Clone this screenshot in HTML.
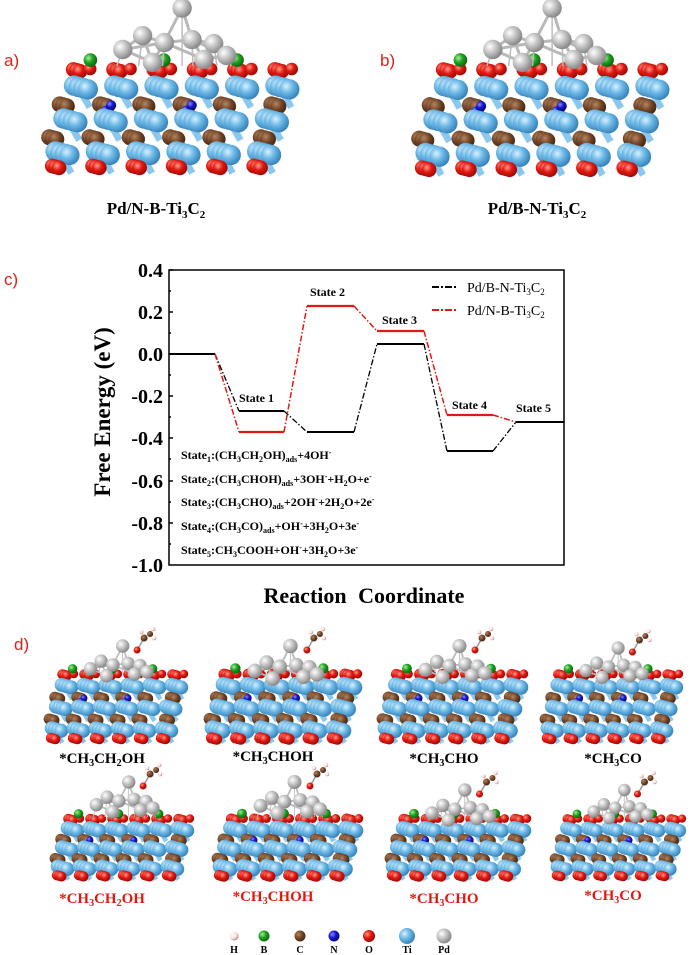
<!DOCTYPE html>
<html><head><meta charset="utf-8"><style>
html,body{margin:0;padding:0;background:#fff;}
svg{display:block}
text{font-family:"Liberation Serif",serif;}
.lab{font-family:"Liberation Sans",sans-serif;fill:#e0201a;font-size:17px;}
</style></head><body>
<svg id="s" width="693" height="955" viewBox="0 0 693 955" xmlns="http://www.w3.org/2000/svg">
<defs>
<radialGradient id="gTi" cx="35%" cy="35%" r="65%"><stop offset="0" stop-color="#d8f0ff"/><stop offset=".5" stop-color="#6cb8e6"/><stop offset="1" stop-color="#3a86bd"/></radialGradient>
<radialGradient id="gC" cx="35%" cy="35%" r="65%"><stop offset="0" stop-color="#b58560"/><stop offset=".6" stop-color="#6e4124"/><stop offset="1" stop-color="#4a2a14"/></radialGradient>
<radialGradient id="gO" cx="35%" cy="35%" r="65%"><stop offset="0" stop-color="#ff9a8a"/><stop offset=".5" stop-color="#e01a12"/><stop offset="1" stop-color="#a00a05"/></radialGradient>
<radialGradient id="gB" cx="35%" cy="35%" r="65%"><stop offset="0" stop-color="#a8f0a0"/><stop offset=".5" stop-color="#1fa31f"/><stop offset="1" stop-color="#0d6a0d"/></radialGradient>
<radialGradient id="gN" cx="35%" cy="35%" r="65%"><stop offset="0" stop-color="#8a8aff"/><stop offset=".5" stop-color="#1818d0"/><stop offset="1" stop-color="#080880"/></radialGradient>
<radialGradient id="gPd" cx="35%" cy="35%" r="65%"><stop offset="0" stop-color="#ffffff"/><stop offset=".5" stop-color="#c4c4c4"/><stop offset="1" stop-color="#8a8a8a"/></radialGradient>
<radialGradient id="gH" cx="35%" cy="35%" r="65%"><stop offset="0" stop-color="#ffffff"/><stop offset=".7" stop-color="#f4dede"/><stop offset="1" stop-color="#c08080"/></radialGradient>
</defs>
<g id="mol"></g>

<text class="lab" x="4" y="66">a)</text>
<text class="lab" x="380" y="66">b)</text>
<text class="lab" x="4" y="285">c)</text>
<text class="lab" x="14" y="650">d)</text>

<text x="156" y="214" text-anchor="middle" font-size="17" font-weight="bold">Pd/N-B-Ti<tspan font-size="11" dy="4">3</tspan><tspan dy="-4">C</tspan><tspan font-size="11" dy="4">2</tspan></text>
<text x="537" y="214" text-anchor="middle" font-size="17" font-weight="bold">Pd/B-N-Ti<tspan font-size="11" dy="4">3</tspan><tspan dy="-4">C</tspan><tspan font-size="11" dy="4">2</tspan></text>

<g>
<rect x="169" y="270" width="395" height="295" fill="none" stroke="#000" stroke-width="1.5"/>
<g stroke="#000" stroke-width="1.5">
<line x1="169" y1="270" x2="173" y2="270"/><line x1="169" y1="291" x2="171" y2="291"/>
<line x1="169" y1="312" x2="173" y2="312"/><line x1="169" y1="333" x2="171" y2="333"/>
<line x1="169" y1="354" x2="173" y2="354"/><line x1="169" y1="375" x2="171" y2="375"/>
<line x1="169" y1="396" x2="173" y2="396"/><line x1="169" y1="417" x2="171" y2="417"/>
<line x1="169" y1="438" x2="173" y2="438"/><line x1="169" y1="459" x2="171" y2="459"/>
<line x1="169" y1="481" x2="173" y2="481"/><line x1="169" y1="502" x2="171" y2="502"/>
<line x1="169" y1="523" x2="173" y2="523"/><line x1="169" y1="544" x2="171" y2="544"/>
</g>
<g font-size="20" font-weight="bold" text-anchor="end">
<text x="163" y="277">0.4</text><text x="163" y="319">0.2</text><text x="163" y="361">0.0</text>
<text x="163" y="403">-0.2</text><text x="163" y="445">-0.4</text><text x="163" y="488">-0.6</text>
<text x="163" y="530">-0.8</text><text x="163" y="572">-1.0</text>
</g>
<text transform="translate(110,412) rotate(-90)" text-anchor="middle" font-size="23" font-weight="bold">Free Energy (eV)</text>
<text x="364" y="603" text-anchor="middle" font-size="22" font-weight="bold" word-spacing="6">Reaction Coordinate</text>

<g stroke="#000" fill="none">
<polyline stroke-width="2" points="169,354 215,354"/>
<polyline stroke-width="2" points="239,411 284,411"/>
<polyline stroke-width="2" points="307,432 354,432"/>
<polyline stroke-width="2" points="377,344 424,344"/>
<polyline stroke-width="2" points="447,451 493,451"/>
<polyline stroke-width="2" points="516,422 564,422"/>
<polyline stroke-width="1.3" stroke-dasharray="6,2,1.5,2" points="215,354 239,411"/>
<polyline stroke-width="1.3" stroke-dasharray="6,2,1.5,2" points="284,411 307,432"/>
<polyline stroke-width="1.3" stroke-dasharray="6,2,1.5,2" points="354,432 377,344"/>
<polyline stroke-width="1.3" stroke-dasharray="6,2,1.5,2" points="424,344 447,451"/>
<polyline stroke-width="1.3" stroke-dasharray="6,2,1.5,2" points="493,451 516,422"/>
</g>
<g stroke="#e01a12" fill="none">
<polyline stroke-width="2.2" points="239,432 284,432"/>
<polyline stroke-width="2.2" points="307,306 354,306"/>
<polyline stroke-width="2.2" points="377,331 424,331"/>
<polyline stroke-width="2.2" points="447,415 493,415"/>
<polyline stroke-width="1.5" stroke-dasharray="6,2,1.5,2" points="215,354 239,432"/>
<polyline stroke-width="1.5" stroke-dasharray="6,2,1.5,2" points="284,432 307,306"/>
<polyline stroke-width="1.5" stroke-dasharray="6,2,1.5,2" points="354,306 377,331"/>
<polyline stroke-width="1.5" stroke-dasharray="6,2,1.5,2" points="424,331 447,415"/>
<polyline stroke-width="1.5" stroke-dasharray="6,2,1.5,2" points="493,415 516,422"/>
</g>
<g font-size="12" font-weight="bold">
<text x="239" y="402">State 1</text><text x="310" y="296">State 2</text>
<text x="382" y="324">State 3</text><text x="452" y="409">State 4</text>
<text x="516" y="412">State 5</text>
</g>
<line x1="432" y1="287" x2="457" y2="287" stroke="#000" stroke-width="2" stroke-dasharray="7,2,2,2"/>
<line x1="432" y1="310" x2="457" y2="310" stroke="#e01a12" stroke-width="2" stroke-dasharray="7,2,2,2"/>
<text x="467" y="292" font-size="14">Pd/B-N-Ti<tspan font-size="9" dy="3">3</tspan><tspan dy="-3">C</tspan><tspan font-size="9" dy="3">2</tspan></text>
<text x="467" y="315" font-size="14">Pd/N-B-Ti<tspan font-size="9" dy="3">3</tspan><tspan dy="-3">C</tspan><tspan font-size="9" dy="3">2</tspan></text>
<g font-size="12" font-weight="bold">
<text x="181" y="459">State<tspan font-size="8" dy="3">1</tspan><tspan dy="-3">:(CH</tspan><tspan font-size="8" dy="3">3</tspan><tspan dy="-3">CH</tspan><tspan font-size="8" dy="3">2</tspan><tspan dy="-3">OH)</tspan><tspan font-size="8" dy="3">ads</tspan><tspan dy="-3">+4OH</tspan><tspan font-size="8" dy="-4">-</tspan></text>
<text x="181" y="483">State<tspan font-size="8" dy="3">2</tspan><tspan dy="-3">:(CH</tspan><tspan font-size="8" dy="3">3</tspan><tspan dy="-3">CHOH)</tspan><tspan font-size="8" dy="3">ads</tspan><tspan dy="-3">+3OH</tspan><tspan font-size="8" dy="-4">-</tspan><tspan dy="4">+H</tspan><tspan font-size="8" dy="3">2</tspan><tspan dy="-3">O+e</tspan><tspan font-size="8" dy="-4">-</tspan></text>
<text x="181" y="506">State<tspan font-size="8" dy="3">3</tspan><tspan dy="-3">:(CH</tspan><tspan font-size="8" dy="3">3</tspan><tspan dy="-3">CHO)</tspan><tspan font-size="8" dy="3">ads</tspan><tspan dy="-3">+2OH</tspan><tspan font-size="8" dy="-4">-</tspan><tspan dy="4">+2H</tspan><tspan font-size="8" dy="3">2</tspan><tspan dy="-3">O+2e</tspan><tspan font-size="8" dy="-4">-</tspan></text>
<text x="181" y="530">State<tspan font-size="8" dy="3">4</tspan><tspan dy="-3">:(CH</tspan><tspan font-size="8" dy="3">3</tspan><tspan dy="-3">CO)</tspan><tspan font-size="8" dy="3">ads</tspan><tspan dy="-3">+OH</tspan><tspan font-size="8" dy="-4">-</tspan><tspan dy="4">+3H</tspan><tspan font-size="8" dy="3">2</tspan><tspan dy="-3">O+3e</tspan><tspan font-size="8" dy="-4">-</tspan></text>
<text x="181" y="554">State<tspan font-size="8" dy="3">5</tspan><tspan dy="-3">:CH</tspan><tspan font-size="8" dy="3">3</tspan><tspan dy="-3">COOH+OH</tspan><tspan font-size="8" dy="-4">-</tspan><tspan dy="4">+3H</tspan><tspan font-size="8" dy="3">2</tspan><tspan dy="-3">O+3e</tspan><tspan font-size="8" dy="-4">-</tspan></text>
</g>
</g>

<g font-size="15" font-weight="bold" text-anchor="middle">
<text x="102" y="763">*CH<tspan font-size="10" dy="3">3</tspan><tspan dy="-3">CH</tspan><tspan font-size="10" dy="3">2</tspan><tspan dy="-3">OH</tspan></text>
<text x="273" y="761">*CH<tspan font-size="10" dy="3">3</tspan><tspan dy="-3">CHOH</tspan></text>
<text x="444" y="763">*CH<tspan font-size="10" dy="3">3</tspan><tspan dy="-3">CHO</tspan></text>
<text x="613" y="763">*CH<tspan font-size="10" dy="3">3</tspan><tspan dy="-3">CO</tspan></text>
<g fill="#e01a12">
<text x="102" y="903">*CH<tspan font-size="10" dy="3">3</tspan><tspan dy="-3">CH</tspan><tspan font-size="10" dy="3">2</tspan><tspan dy="-3">OH</tspan></text>
<text x="273" y="901">*CH<tspan font-size="10" dy="3">3</tspan><tspan dy="-3">CHOH</tspan></text>
<text x="444" y="903">*CH<tspan font-size="10" dy="3">3</tspan><tspan dy="-3">CHO</tspan></text>
<text x="613" y="900">*CH<tspan font-size="10" dy="3">3</tspan><tspan dy="-3">CO</tspan></text>
</g>
</g>
<g>
<circle cx="234" cy="936" r="4.5" fill="url(#gH)"/>
<circle cx="264" cy="936" r="5.5" fill="url(#gB)"/>
<circle cx="300" cy="936" r="5.5" fill="url(#gC)"/>
<circle cx="334" cy="936" r="5.5" fill="url(#gN)"/>
<circle cx="369" cy="936" r="6" fill="url(#gO)"/>
<circle cx="407" cy="936" r="8" fill="url(#gTi)"/>
<circle cx="444" cy="936" r="7.5" fill="url(#gPd)"/>
<g font-size="10" font-weight="bold" text-anchor="middle">
<text x="234" y="953">H</text><text x="264" y="953">B</text><text x="300" y="953">C</text><text x="334" y="953">N</text><text x="369" y="953">O</text><text x="407" y="953">Ti</text><text x="444" y="953">Pd</text>
</g>
</g>
</svg>
<script>
(function(){
var NS="http://www.w3.org/2000/svg",g=document.getElementById("mol");
function c(x,y,r,f){var e=document.createElementNS(NS,"circle");e.setAttribute("cx",x.toFixed(1));e.setAttribute("cy",y.toFixed(1));e.setAttribute("r",r.toFixed(1));e.setAttribute("fill","url(#g"+f+")");g.appendChild(e);}
function l(x1,y1,x2,y2,col,w){var e=document.createElementNS(NS,"line");e.setAttribute("x1",x1);e.setAttribute("y1",y1);e.setAttribute("x2",x2);e.setAttribute("y2",y2);e.setAttribute("stroke",col);e.setAttribute("stroke-width",w);g.appendChild(e);}
function atom(x,y,r,f,n){for(var k=n-1;k>=0;k--)c(x-k*r*0.45,y-k*r*0.12,r,f);}
function slab(x,y,w,h,top,rf,mol){
 var s=w/265, rs=s*rf, cols=6, dx=w/6.5;
 var layers=[[0.05,"O",6.5,0.08],[0.22,"Ti",9,0.11],[0.38,"C",7,0.03],[0.53,"Ti",9,0.07],[0.69,"C",7,-0.01],[0.84,"Ti",9,0.04],[0.96,"O",6.5,0.0]];
 for(var L=0;L<layers.length;L++){
  var ly=layers[L];
  for(var i=0;i<cols;i++){
   var xx=x+w*0.08+i*dx+ly[3]*w, yy=y+ly[0]*h;
   if(ly[1]=="Ti"){ l(xx-12*rs,yy-8*rs,xx+2*s,yy+0.17*h,"#8cc8ee",6*rs); }
  }
 }
 for(var L=0;L<layers.length;L++){
  var ly=layers[L];
  var n=(ly[1]=="Ti")?4:3;
  for(var i=0;i<cols;i++){
   var xx=x+w*0.08+i*dx+ly[3]*w, yy=y+ly[0]*h;
   if(ly[1]=="C"&&i==cols-1)xx+=dx*0.25;
   atom(xx,yy,ly[2]*rs,ly[1],n);
   if(ly[1]=="O"&&L==0){c(xx+9*rs,yy-2*rs,5.5*rs,"O");}
   if(L==2&&(i==1||i==3)){c(xx+4*s,yy-1*s,4.5*rs,"N");c(xx-2*s,yy+3*s,3*rs,"N");}
  }
 }
 for(var i=0;i<3;i++){c(x+w*(0.2+i*0.28),y-6*s,6*rs,"B");}
 var cx=x+w*0.55, cy=top;
 var pts=[[0,0],[-40,28],[-18,35],[10,32],[32,36],[-60,42],[22,52],[-30,55],[45,48]];
 for(var i=0;i<pts.length;i++)for(var j=i+1;j<pts.length;j++){var a=pts[i],b=pts[j];if(Math.hypot(a[0]-b[0],a[1]-b[1])<45)l(cx+a[0]*s,cy+a[1]*s,cx+b[0]*s,cy+b[1]*s,"#b8b8b8",3*s);}
 for(var i=0;i<pts.length;i++){l(cx+pts[i][0]*s,cy+pts[i][1]*s,cx+pts[i][0]*s*1.1,y,"#bbb",1.5*s);}
 for(var i=0;i<pts.length;i++)c(cx+pts[i][0]*s,cy+pts[i][1]*s,8.5*rs,"Pd");
 if(mol){var mx=cx+w*0.15,my=cy-8; l(mx-8,my+14,mx,my,"#999",1.5);c(mx-7,my+12,3.5,"O");c(mx,my,3.5,"C");c(mx+6,my-4,3,"C");c(mx+9,my-9,2.3,"H");c(mx+10,my,2.3,"H");c(mx-3,my-6,2.3,"H");}
}
slab(38,66,262,106,8,1.15,false);
slab(408,66,262,108,8,1.15,false);
var d=[[44,672,143,70,646],[204,672,157,70,646],[377,672,150,70,646],[540,672,142,70,648],
       [50,817,143,62,782],[212,817,150,62,782],[385,817,145,62,790],[550,817,135,62,790]];
for(var i=0;i<d.length;i++){var t=d[i];slab(t[0],t[1],t[2],t[3],t[4],1.45,true);}
})();
</script>
</body></html>
